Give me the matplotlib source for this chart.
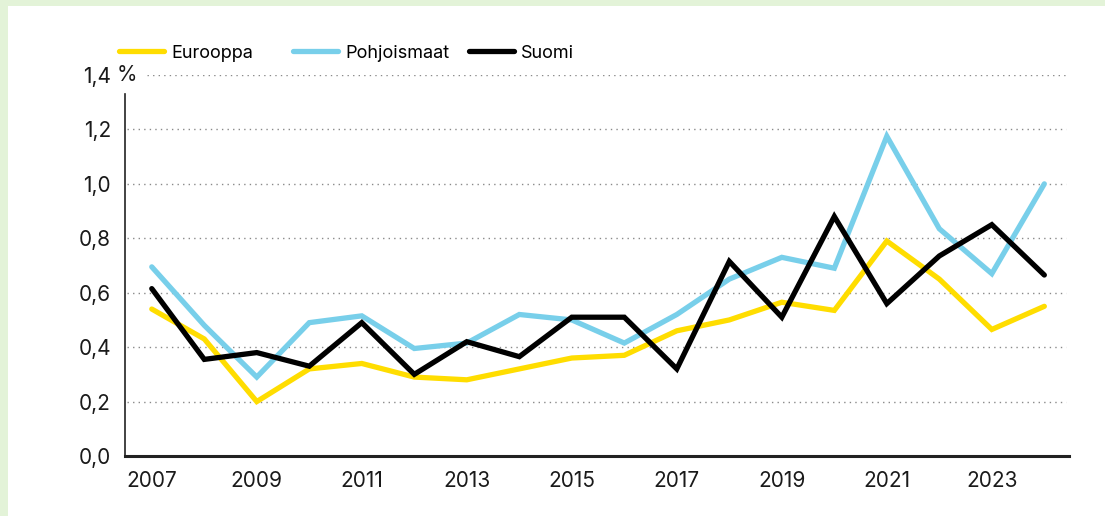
import numpy as np
import matplotlib
matplotlib.use("Agg")
import matplotlib.pyplot as plt
from matplotlib.lines import Line2D

# data
years = list(range(2007, 2025))
eurooppa = [0.54, 0.43, 0.20, 0.32, 0.34, 0.29, 0.28, 0.32, 0.36, 0.37,
            0.46, 0.50, 0.565, 0.535, 0.79, 0.65, 0.465, 0.55]
pohjoismaat = [0.695, 0.48, 0.29, 0.49, 0.515, 0.395, 0.415, 0.52, 0.50, 0.415,
               0.52, 0.65, 0.73, 0.69, 1.175, 0.835, 0.67, 1.00]
suomi = [0.615, 0.355, 0.38, 0.33, 0.49, 0.30, 0.42, 0.365, 0.51, 0.51,
         0.32, 0.715, 0.51, 0.88, 0.56, 0.735, 0.85, 0.665]

series_names = ["Eurooppa", "Pohjoismaat", "Suomi"]
series_vals = [eurooppa, pohjoismaat, suomi]
colors = ["#FFDD00", "#78CFEA", "#000000"]

y_ticks = [0.0, 0.2, 0.4, 0.6, 0.8, 1.0, 1.2, 1.4]
y_labels = ["0,0", "0,2", "0,4", "0,6", "0,8", "1,0", "1,2", "1,4"]
x_ticks = list(range(2007, 2025, 2))

plt.rcParams['font.family'] = ['Inter', 'DejaVu Sans']
plt.rcParams['font.size'] = 15

fig = plt.figure(figsize=(11.05, 5.16), dpi=100)
fig.patch.set_facecolor("#E3F3D8")
# white panel
fig.patches.append(plt.Rectangle((8/1105, 0), 1, 1 - 6/516, transform=fig.transFigure,
                                 facecolor="white", edgecolor="none", zorder=-5))

ax = fig.add_axes([125/1105, 1 - 456/516, 944/1105, (456 - 75)/516])
ax.set_facecolor("none")

for vals, c in zip(series_vals, colors):
    ax.plot(years, vals, color=c, lw=3.8, solid_capstyle="round",
            solid_joinstyle="miter", clip_on=False, zorder=3)

ax.set_xlim(2006.49, 2024.47)
ax.set_ylim(0, 1.4)

# dotted grid lines
for v in y_ticks[1:]:
    start = 22/944 if v == 1.4 else 2/944
    ax.axhline(v, xmin=start, xmax=0.997, color="#8a8a8a", lw=1.0,
               ls=(0, (1, 3)), zorder=1)

ax.set_yticks(y_ticks)
ax.set_yticklabels(y_labels)
ax.set_xticks(x_ticks)
ax.set_xticklabels([str(y) for y in x_ticks])
ax.tick_params(axis="y", length=0, pad=10, labelcolor="#1a1a1a")
ax.tick_params(axis="x", length=0, pad=11, labelcolor="#1a1a1a")

for s in ["top", "right"]:
    ax.spines[s].set_visible(False)
ax.spines["left"].set_bounds(0, 1.33)
ax.spines["left"].set_linewidth(1.2)
ax.spines["bottom"].set_linewidth(2.2)
ax.spines["left"].set_color("#222222")
ax.spines["bottom"].set_color("#222222")

ax.annotate("%", xy=(0, 1.4), xycoords=("axes fraction", "data"),
            xytext=(-6, 0), textcoords="offset points", ha="left", va="center",
            color="#1a1a1a")

# legend, one entry placed per column
legend_x = [119, 293, 469]
for name, c, lx in zip(series_names, colors, legend_x):
    h = Line2D([], [], color=c, lw=3.8, solid_capstyle="round")
    fig.legend([h], [name], loc="center left",
               bbox_to_anchor=(lx/1105, 1 - 53/516), frameon=False,
               handlelength=2.5, handletextpad=0.38, borderpad=0,
               borderaxespad=0, fontsize=13)

fig.savefig("out.png", dpi=100)
